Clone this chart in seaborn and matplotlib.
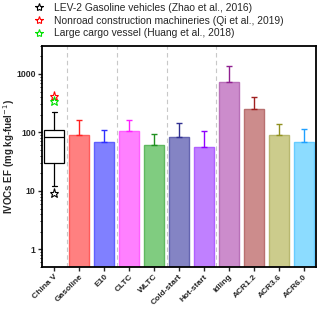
import numpy as np
import pandas as pd
import matplotlib
matplotlib.use("Agg")
import matplotlib.pyplot as plt
from matplotlib.lines import Line2D
import seaborn as sns

categories = ["China V", "Gasoline", "E10", "CLTC", "WLTC", "Cold-start",
              "Hot-start", "Idling", "ACR1.2", "ACR3.6", "ACR6.0"]
bar_categories = categories[1:]
bar_values = [91, 68, 104, 60, 82, 57, 723, 250, 90, 68]
bar_err_top = [163, 110, 166, 94, 147, 104, 1370, 408, 137, 115]
bar_colors = ["#FF8080", "#8080FF", "#FF80FF", "#80CC80", "#8484C4",
              "#C080FF", "#CC8CCC", "#CC8C8C", "#CCCC8C", "#8CDCFF"]
edge_colors = ["#FF5C5C", "#6060FF", "#FF60FF", "#60B860", "#6464B0",
               "#B060FF", "#B870B8", "#B87070", "#B8B870", "#66CCFF"]
err_colors = ["#FF2020", "#3030FF", "#FF20FF", "#209020", "#303090",
              "#9000FF", "#902090", "#A02020", "#909020", "#20A0FF"]

# China V box statistics
box_whislo, box_q1, box_med, box_q3, box_whishi = 12, 30, 82, 111, 224
star_values = [9.2, 420, 340]
star_colors = ["black", "red", "#00E000"]
legend_labels = ["LEV-2 Gasoline vehicles (Zhao et al., 2016)",
                 "Nonroad construction machineries (Qi et al., 2019)",
                 "Large cargo vessel (Huang et al., 2018)"]

sns.set_style("white")
plt.rcParams["font.family"] = ["Liberation Sans", "DejaVu Sans"]

fig = plt.figure(figsize=(3.2, 3.14), dpi=100)
ax = fig.add_axes([0.131, 0.1497, 0.8565, 0.7038])

df = pd.DataFrame({"cat": pd.Categorical(bar_categories, categories=categories),
                   "val": bar_values})
sns.barplot(data=df, x="cat", y="val", hue="cat", palette=dict(zip(bar_categories, bar_colors)),
            order=categories, hue_order=bar_categories, legend=False, width=0.8,
            dodge=False, ax=ax, linewidth=1.0, saturation=1, errorbar=None)
ax.set_yscale("log")
for p, ec in zip([p for p in ax.patches if p.get_height() > 0], edge_colors):
    p.set_edgecolor(ec)

xs = np.arange(1, len(categories))
for x, v, e, c in zip(xs, bar_values, bar_err_top, err_colors):
    ax.errorbar([x], [v], yerr=[[0], [e - v]], fmt="none", ecolor=c,
                elinewidth=1.0, capsize=2.5, capthick=1.0)

stats = [dict(med=box_med, q1=box_q1, q3=box_q3, whislo=box_whislo,
              whishi=box_whishi, fliers=[])]
ax.bxp(stats, positions=[0], widths=0.8, showfliers=False, patch_artist=True,
       boxprops=dict(facecolor="white", edgecolor="black", linewidth=0.9),
       medianprops=dict(color="black", linewidth=0.9),
       whiskerprops=dict(color="black", linewidth=0.9),
       capprops=dict(color="black", linewidth=0.9), capwidths=0.2)
for v, c in zip(star_values, star_colors):
    ax.plot([0], [v], marker="*", markersize=6.5, markerfacecolor="none",
            markeredgecolor=c, markeredgewidth=0.8, linestyle="none")

for xv in [0.5, 2.5, 4.5, 6.5]:
    ax.axvline(xv, color="#C8C8C8", linestyle=(0, (4, 3)), linewidth=0.8, zorder=0)

ax.set_xlim(-0.5, 10.5)
ax.set_ylim(0.5, 3000)
ax.set_xticks(range(len(categories)))
ax.set_xticklabels(categories, rotation=45, ha="right", rotation_mode="anchor",
                   fontsize=6, fontweight="bold")
ax.set_yticks([1, 10, 100, 1000])
ax.set_yticklabels(["1", "10", "100", "1000"], fontsize=6.2, fontweight="bold")
ax.yaxis.set_minor_locator(matplotlib.ticker.LogLocator(base=10, subs=np.arange(2, 10)))
ax.yaxis.set_minor_formatter(matplotlib.ticker.NullFormatter())
ax.tick_params(axis="both", which="major", direction="out", length=3, width=1.0,
               left=True, bottom=True, pad=1.5)
ax.tick_params(axis="y", which="minor", direction="out", length=1.8, width=0.7, left=True)
ax.set_xlabel("")
ax.set_ylabel("IVOCs EF (mg kg-fuel$^{-1}$)", fontsize=7, fontweight="bold")
ax.yaxis.set_label_coords(-0.09, 0.5)
for s in ax.spines.values():
    s.set_linewidth(1.3)
    s.set_color("black")

handles = [Line2D([], [], marker="*", markersize=6, markerfacecolor="none",
                  markeredgecolor=c, markeredgewidth=0.8, linestyle="none")
           for c in star_colors]
fig.legend(handles, legend_labels, loc="upper left", bbox_to_anchor=(0.07, 1.01),
           frameon=False, fontsize=7.4, handletextpad=0.5, labelspacing=0.25,
           borderaxespad=0.2)

fig.savefig("out.png", dpi=100)
